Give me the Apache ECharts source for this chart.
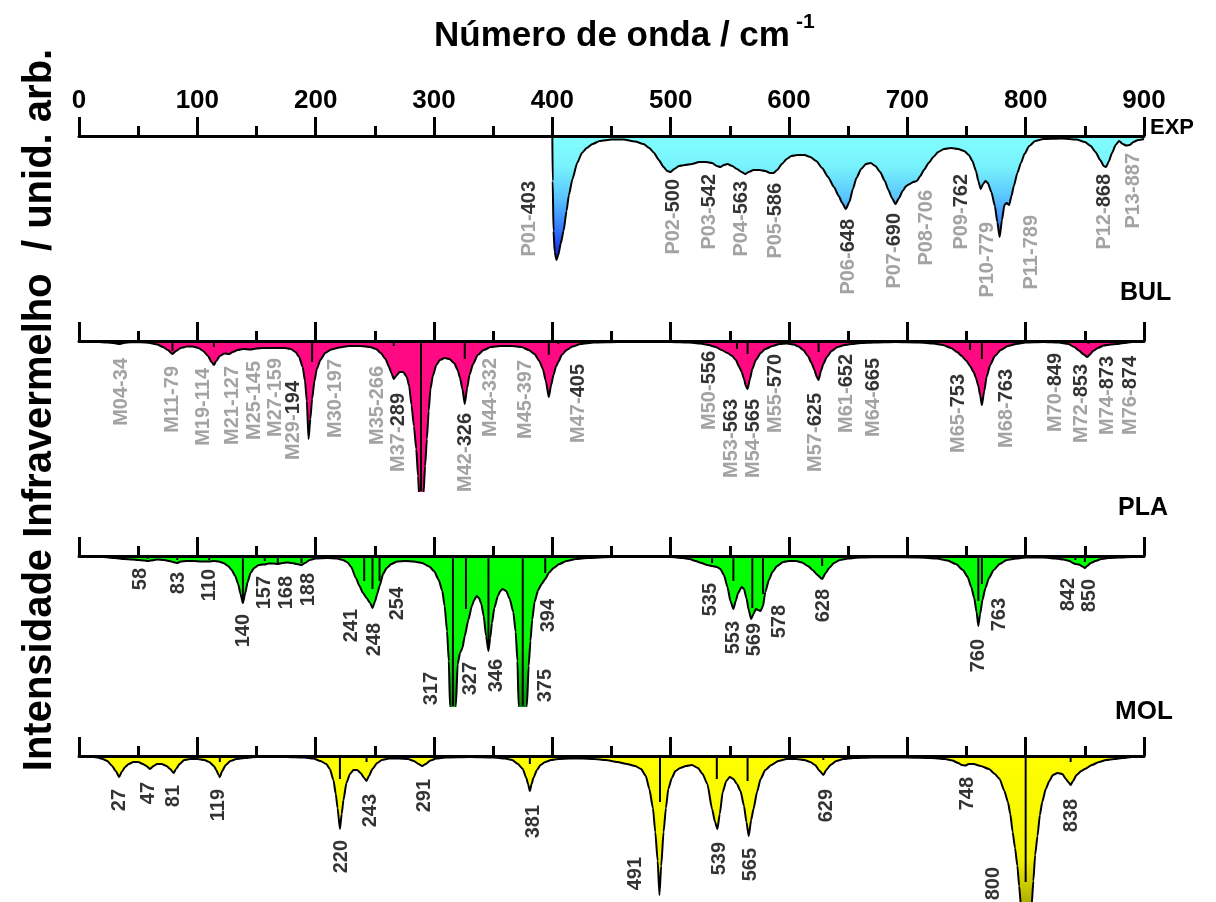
<!DOCTYPE html>
<html><head><meta charset="utf-8">
<script src="https://cdn.jsdelivr.net/npm/echarts@6/dist/echarts.min.js"></script>
<style>html,body{margin:0;padding:0;background:#fff}#c{width:1216px;height:902px}</style>
</head><body><div id="c"></div>
<script>
// ---------------- DATA ----------------
// curves: [wavenumber (cm-1), absorption depth (arb. units)]
const expCurve = [
[400,0],[400.3,45],[401,95],[402,116],[403.5,124],[405,119],[407,108],[409.5,95],[412,75],[414,59],[417,43],[421,27],[425,17],[429,12],[434,8],[440,5],[450,3.5],[460,3.5],[470,5.5],[477,8],[482,12],[486,17],[490,24],[494,31],[497,35],[500,36],[503,33],[507,30],[512,29],[518,28],[524,26],[530,26],[535,27],[539,30],[542,31],[545,29],[548,28],[552,30],[556,33],[560,36],[563,38],[566,36],[570,34],[575,34],[580,35],[584,37],[587,37],[590,34],[594,28],[598,23],[602,20],[607,19],[613,19],[618,21],[623,25],[628,32],[633,41],[638,51],[642,60],[645,67],[648,73],[651,66],[654,53],[657,42],[661,33],[665,28],[669,27],[673,30],[677,36],[681,45],[684,54],[687,62],[690,68],[693,62],[696,55],[699,50],[702,48],[705,46],[708,45],[711,40],[714,34],[718,27],[722,21],[726,16],[731,13],[737,12],[743,13],[748,15],[752,19],[755,25],[758,35],[760,45],[762,53],[764,48],[766,45],[768,47],[771,56],[774,70],[776,86],[778,101],[780,84],[782,69],[784,67],[786,69],[788,60],[790,50],[793,37],[796,27],[799,18],[803,10],[808,5],[815,3],[830,2.5],[843,3.5],[850,6],[855,10],[859,16],[863,24],[866,30],[868,31],[870,26],[873,17],[876,9],[879,5],[882,8],[885,9.5],[888,9],[891,6],[895,4],[900,3]
];
const bulCurve = [
[0,0.5],[15,0.8],[24,1.5],[29,2],[34,3],[38,2],[44,1.2],[52,1.2],[60,2],[66,3.5],[71,6],[75,9],[79,13],[82,10],[86,7],[91,5.5],[96,5.5],[101,7],[105,10],[109,15],[112,21],[114,24],[116,20],[119,15],[123,12.5],[127,13],[130,11],[134,9],[139,8],[145,8.5],[150,7.5],[155,7],[160,7],[167,7],[174,7],[179,8],[183,11],[186,16],[189,26],[191,40],[192.5,60],[194,98],[195.5,78],[197,58],[199,40],[201,28],[204,19],[208,12],[213,8.5],[220,6.5],[228,5],[238,5],[246,6],[251,8],[255,12],[259,18],[262,26],[264,32],[266,38],[268,35],[271,31],[274,31],[277,36],[279,45],[281,64],[283,85],[285,108],[286.5,135],[287.5,155],[289,190],[291,155],[292.5,125],[294,98],[295.5,70],[297,48],[299,35],[302,24],[305,19],[309,17],[313,18],[317,22],[320,29],[322,37],[324,48],[326,63],[328,47],[330,34],[333,23],[337,14],[342,9],[348,6],[356,5],[366,5],[374,6],[380,9],[385,13],[389,20],[392,28],[394.5,40],[397,56],[399,44],[401,34],[403,26],[405,21],[408,14],[412,9],[417,5.5],[424,3],[435,1.5],[455,1],[480,1],
[500,1],[515,1.5],[525,2.5],[532,4],[538,6],[543,9],[548,12],[552,15],[555,19],[558,26],[560,31],[562,38],[563.5,45],[565,48],[567,38],[569,28],[572,19],[576,12],[580,8],[586,5],[592,3],[598,2.5],[604,3.5],[608,5.5],[612,9],[616,15],[619,22],[621.5,29],[623.5,36],[625,39],[627,30],[629,23],[632,16],[636,10],[641,6],[647,4],[653,3],[661,2],[672,1.5],[690,1],[710,1.5],[722,2.5],[730,4],[737,7],[742,11],[746,15],[750,20],[753,25],[756,31],[758,37],[760,45],[761.5,54],[763,64],[765,50],[767,36],[770,24],[774,15],[779,9],[785,5],[792,3],[800,1.5],[815,1],[828,1.5],[836,3],[841,6],[845,9.5],[849,13.5],[852,16],[854,14],[857,10],[861,7],[866,4.5],[872,3.5],[877,3],[883,2],[890,1],[900,0.5]
];
const plaCurve = [
[0,0.5],[20,1],[30,2],[38,3],[45,3.5],[50,4],[55,4.5],[58,5],[61,4.5],[66,3.5],[72,4],[78,5.5],[81,6.5],[83,7],[86,5.5],[91,5],[97,5],[103,5.5],[107,5.5],[110,5.5],[114,5],[118,5.5],[122,7],[126,10],[129,14],[132,20],[134.5,28],[136.5,38],[138.5,47],[140.5,37],[142.5,26],[145,17],[148,12],[152,9],[155,8.5],[157,8.5],[160,7.5],[164,7.5],[168,8],[172,7],[176,6.5],[180,7],[184,8],[188,9],[191,7],[195,4],[200,2.5],[210,2],[218,2.5],[223,4],[227,6.5],[230,11],[234,22],[237,30],[240,37],[243,42],[246,47],[248,52],[250,46],[252,38],[254,30],[257,18],[260,12],[264,8],[269,5.5],[276,5],[283,5.5],[290,7],[296,10.5],[300,15],[304,24],[307,35],[309,50],[311,75],[312.5,105],[313.5,150],[316,200],[318.5,150],[320,108],[322,97],[324,92],[326,80],[329,64],[332,50],[334,44],[336,40],[338,42],[340,48],[342,60],[344,80],[346,95],[347.5,82],[349,67],[351,52],[354,40],[356,35],[358,33],[361,35],[364,43],[367,56],[369,76],[370.5,105],[371.5,150],[375,200],[378.5,150],[380,110],[381.5,85],[383,64],[385,46],[388,34],[391,28],[394,23],[397,17],[401,12],[406,8],[412,5],[420,3],[430,2],[450,1],[480,1],
[500,1],[510,2],[516,3],[521,5],[526,7],[531,9],[535,10],[539,11],[542,13],[545,19],[548,31],[550.5,45],[553,53],[555,45],[557,37],[560,31],[562,33],[564,42],[566,54],[568,63],[570,58],[572,53],[574,54],[576,55],[578,50],[580,36],[583,24],[586,16],[590,10],[595,6],[600,5],[606,5],[611,6.5],[616,10],[620,14],[624,19],[628,23],[631,17],[634,12],[638,7],[643,4],[650,2.5],[660,1.5],[680,1],[710,1.5],[725,2.5],[734,4.5],[741,8],[747,14],[751,21],[754,31],[756.5,42],[758.5,56],[760,70],[761.5,58],[763.5,44],[766,32],[769,22],[773,14],[778,8],[784,4],[792,2.5],[800,1.5],[815,1.5],[825,2.5],[832,3.5],[837,5],[840,7],[842,8],[845,8.5],[848,10.5],[850,12],[852,10],[855,7],[859,5],[864,3],[870,2],[880,1.5],[890,1],[900,0.5]
];
const molCurve = [
[10,0.5],[16,1.5],[20,3],[24,5],[28,10],[31,15],[34,21],[36,16],[39,11],[42,8],[46,6],[50,6],[54,8],[57,10],[60,13],[63,10],[66,8],[70,8],[74,10],[77,13],[80,17],[82,13],[85,8],[89,4],[94,3],[100,3],[106,4],[110,6],[114,10],[116,14],[118,19],[119,21],[121,15],[124,9],[128,5],[133,3],[140,2],[150,1],[175,1],[190,1.5],[198,2.5],[204,5],[209,8],[212,13],[215,24],[217,38],[218.5,52],[220.5,73],[222,58],[223.5,44],[226,27],[229,18],[232,14],[235,14],[238,17],[241,22],[243,25],[245,20],[248,13],[252,7],[256,4],[262,2.5],[270,2.5],[278,3],[283,5],[287,8],[290,10],[293,8],[297,4.5],[302,2.5],[310,1.5],[330,1],[350,1.5],[360,2.5],[366,4],[371,8],[375,13],[378,22],[379.5,28],[381,35],[382.5,28],[384,22],[387,14],[390,9],[394,6],[399,4],[405,3],[415,2.5],[425,2.5],[435,3],[445,4],[455,6],[463,8],[470,10],[475,13],[479,20],[482,33],[485,52],[487,76],[489,105],[490.5,139],[492,110],[494,76],[496,52],[498,33],[501,22],[504,15],[508,12],[513,10],[518,9],[523,12],[527,18],[531,28],[535,53],[537.5,66],[539.5,73],[541.5,58],[544,36],[547,25],[550,21],[553,23],[556,28],[559,35],[562,50],[564,66],[566,80],[568,64],[570,53],[573,36],[576,23],[580,14],[585,9],[591,5],[598,3],[606,3],[613,4],[618,6],[622,9],[626,15],[629,19],[631.5,14],[635,9],[640,5],[646,3],[655,2],[670,1.5],[700,1.5],[720,2],[732,3],[738,4.5],[743,7],[746,9],[749,9.5],[752,8],[756,8],[762,10],[769,13],[774,18],[778,23],[782,35],[785,46],[787,58],[789,76],[791,92],[793,110],[794.5,130],[796,150],[800,200],[805,150],[806.5,125],[808,99],[810,80],[812,59],[814,46],[817,33],[820,25],[823,19],[827,17],[831,18],[834,23],[836,26],[838,29],[840,25],[843,19],[847,15],[850,13],[856,9],[862,6],[868,4],[875,3],[882,2],[890,1],[900,0.5]
];
// calculated modes (stick lines): [wavenumber, intensity]
const bulSticks = [[34,2],[79,10],[114,6],[197,21],[266,5],[289,160],[326,18],[397,14],[405,3],[556,8],[565,13],[625,11],[753,9],[763,18],[853,3]];
const plaSticks = [[58,3],[83,4],[110,4],[138.5,47],[157,5],[168,7],[188,7],[241,25],[248,33],[254,25],[316,160],[327,53],[346,92],[375,160],[394,17],[535,7],[553,25],[569,52],[578,38],[628,10],[760,45],[763,28],[842,4],[850,6]];
const molSticks = [[119,6],[220.5,23],[243,6],[381,8],[491,46],[539,23],[565,25],[629,4],[800,126],[838,6]];
// band labels
const expLabels = ['P01-403','P02-500','P03-542','P04-563','P05-586','P06-648','P07-690','P08-706','P09-762','P10-779','P11-789','P12-868','P13-887'];
const bulLabels = ['M04-34','M11-79','M19-114','M21-127','M25-145','M27-159','M29-194','M30-197','M35-266','M37-289','M42-326','M44-332','M45-397','M47-405','M50-556','M53-563','M54-565','M55-570','M57-625','M61-652','M64-665','M65-753','M68-763','M70-849','M72-853','M74-873','M76-874'];
const plaLabels = ['58','83','110','140','157','168','188','241','248','254','317','327','346','375','394','535','553','569','578','628','760','763','842','850'];
const molLabels = ['27','47','81','119','220','243','291','381','491','539','565','629','748','800','838'];
const panelNames = ['EXP','BUL','PLA','MOL'];
const xTitle = 'Número de onda / cm';
const xTitleSup = '-1';
const yTitle = 'Intensidade Infravermelho  / unid. arb.';

// ---------------- LAYOUT / STYLE ----------------
const expLabelPos = [[381,45],[502,43],[533,38],[560,45],[589,47],[650,83],[689,77],[716,54],[746,38],[768,86],[805,79],[867,38],[891,17]];
const bulLabelPos = [[36,17],[79,25],[105,27],[130,25],[148,20],[166,17],[181,40],[217,18],[252,25],[270,52],[327,72],[348,17],[377,19],[422,23],[533,10],[551,58],[570,58],[589,13],[622,52],[649,13],[671,17],[743,33],[784,28],[825,12],[847,23],[869,15],[889,15]];
const plaLabelPos = [[52,12],[84,16],[110,13],[139,58],[157,20],[175,20],[194,17],[230,53],[250,67],[269,31],[298,116],[331,106],[353,103],[394,113],[397,43],[534,27],[553,65],[571,67],[592,49],[629,33],[760,83],[778,42],[836,22],[854,23]];
const molLabelPos = [[34,33],[59,26],[80,29],[118,33],[222,84],[246,38],[292,23],[384,49],[470,101],[541,86],[567.5,92],[632,33],[751,21],[773,111],[839,43]];
const grayNumber = ['P08-706','P10-779','P11-789','P13-887','M04-34','M11-79','M19-114','M21-127','M25-145','M27-159','M30-197','M35-266','M44-332','M45-397'];

const FONT = '"Liberation Sans", Arial, Helvetica, sans-serif';
const GRAY = '#8c8c8c';
const LABEL_SIZE = 20;
const gridLeft = 79, gridWidth = 1065;
const tops = [136, 341, 556, 756];
const heights = [140, 150, 150, 146];
const LG = echarts.graphic.LinearGradient;
const fills = [
  new LG(0, 136, 0, 260, [{offset:0,color:'#80ffff'},{offset:0.25,color:'#78f2fc'},{offset:0.5,color:'#58c4ff'},{offset:0.75,color:'#3478ff'},{offset:1,color:'#0a1ee0'}], true),
  '#ff0a82',
  new LG(0, 556, 0, 706, [{offset:0,color:'#00ff00'},{offset:0.6,color:'#08f808'},{offset:1,color:'#0a900a'}], true),
  new LG(0, 756, 0, 902, [{offset:0,color:'#ffff00'},{offset:0.7,color:'#f2f200'},{offset:1,color:'#b0b000'}], true)
];

const chart = echarts.init(document.getElementById('c'), null, {renderer:'canvas'});

const grids = [], xAxes = [], yAxes = [], series = [];
for (let i = 0; i < 4; i++) {
  grids.push({left: gridLeft, width: gridWidth, top: tops[i], height: heights[i], containLabel: false});
  xAxes.push({
    type: 'value', gridIndex: i, min: 0, max: 900, interval: 100, position: 'top', z: 10,
    axisLine: {show: true, onZero: false, lineStyle: {color: '#000', width: 3}},
    axisTick: {show: true, length: 19, lineStyle: {color: '#000', width: 3}},
    minorTick: {show: true, splitNumber: 2, length: 10, lineStyle: {color: '#000', width: 3}},
    splitLine: {show: false}, minorSplitLine: {show: false},
    axisLabel: {show: i === 0, color: '#000', fontFamily: FONT, fontWeight: 'bold', fontSize: 26, margin: 22}
  });
  yAxes.push({type: 'value', gridIndex: i, inverse: true, min: 0, max: heights[i], show: false});
}

const curves = [expCurve, bulCurve, plaCurve, molCurve];
const sticks = [null, bulSticks, plaSticks, molSticks];
const labels = [expLabels, bulLabels, plaLabels, molLabels];
const labelPos = [expLabelPos, bulLabelPos, plaLabelPos, molLabelPos];

function fmtLabel(t) {
  const k = t.lastIndexOf('-');
  if (k < 0) return '{k|' + t + '}';
  const g = grayNumber.indexOf(t) >= 0;
  return '{g|' + t.slice(0, k + 1) + '}{' + (g ? 'g' : 'k') + '|' + t.slice(k + 1) + '}';
}
const rich = {
  g: {color: GRAY, fontFamily: FONT, fontWeight: 'bold', fontSize: LABEL_SIZE},
  k: {color: '#000', fontFamily: FONT, fontWeight: 'bold', fontSize: LABEL_SIZE}
};

for (let i = 0; i < 4; i++) {
  series.push({
    type: 'line', xAxisIndex: i, yAxisIndex: i, data: curves[i], symbol: 'none',
    smooth: 0.2, smoothMonotone: 'x', clip: true, silent: true,
    lineStyle: {color: '#000', width: 2}, areaStyle: {color: fills[i], opacity: 1}, z: 2
  });
  if (sticks[i]) {
    series.push({
      type: 'bar', xAxisIndex: i, yAxisIndex: i, data: sticks[i], barWidth: 2, clip: true, silent: true,
      itemStyle: {color: '#000'}, z: 3
    });
  }
  series.push({
    type: 'scatter', xAxisIndex: i, yAxisIndex: i, symbolSize: 1, silent: true, z: 5,
    itemStyle: {color: 'rgba(0,0,0,0)'},
    data: labels[i].map((t, j) => ({name: t, value: labelPos[i][j]})),
    label: {show: true, position: 'inside', rotate: 90, align: 'right', verticalAlign: 'middle',
      formatter: p => fmtLabel(p.name), rich: rich}
  });
}

const graphics = [
  {type: 'text', x: 612, y: 36, style: {text: xTitle, font: 'bold 35px ' + FONT, fill: '#000', align: 'center', verticalAlign: 'middle'}},
  {type: 'text', x: 796, y: 22, style: {text: xTitleSup, font: 'bold 21px ' + FONT, fill: '#000', align: 'left', verticalAlign: 'middle'}},
  {type: 'text', x: 40, y: 410, rotation: Math.PI / 2, style: {text: yTitle, font: 'bold 40px ' + FONT, fill: '#000', align: 'center', verticalAlign: 'middle'}},
  {type: 'text', x: 1150, y: 128, style: {text: panelNames[0], font: 'bold 22px ' + FONT, fill: '#000', align: 'left', verticalAlign: 'middle'}},
  {type: 'text', x: 1120, y: 293, style: {text: panelNames[1], font: 'bold 25px ' + FONT, fill: '#000', align: 'left', verticalAlign: 'middle'}},
  {type: 'text', x: 1118, y: 508, style: {text: panelNames[2], font: 'bold 25px ' + FONT, fill: '#000', align: 'left', verticalAlign: 'middle'}},
  {type: 'text', x: 1115, y: 712, style: {text: panelNames[3], font: 'bold 26px ' + FONT, fill: '#000', align: 'left', verticalAlign: 'middle'}}
];

chart.setOption({
  animation: false,
  backgroundColor: '#fff',
  grid: grids, xAxis: xAxes, yAxis: yAxes, series: series, graphic: graphics
});
</script>
</body></html>
